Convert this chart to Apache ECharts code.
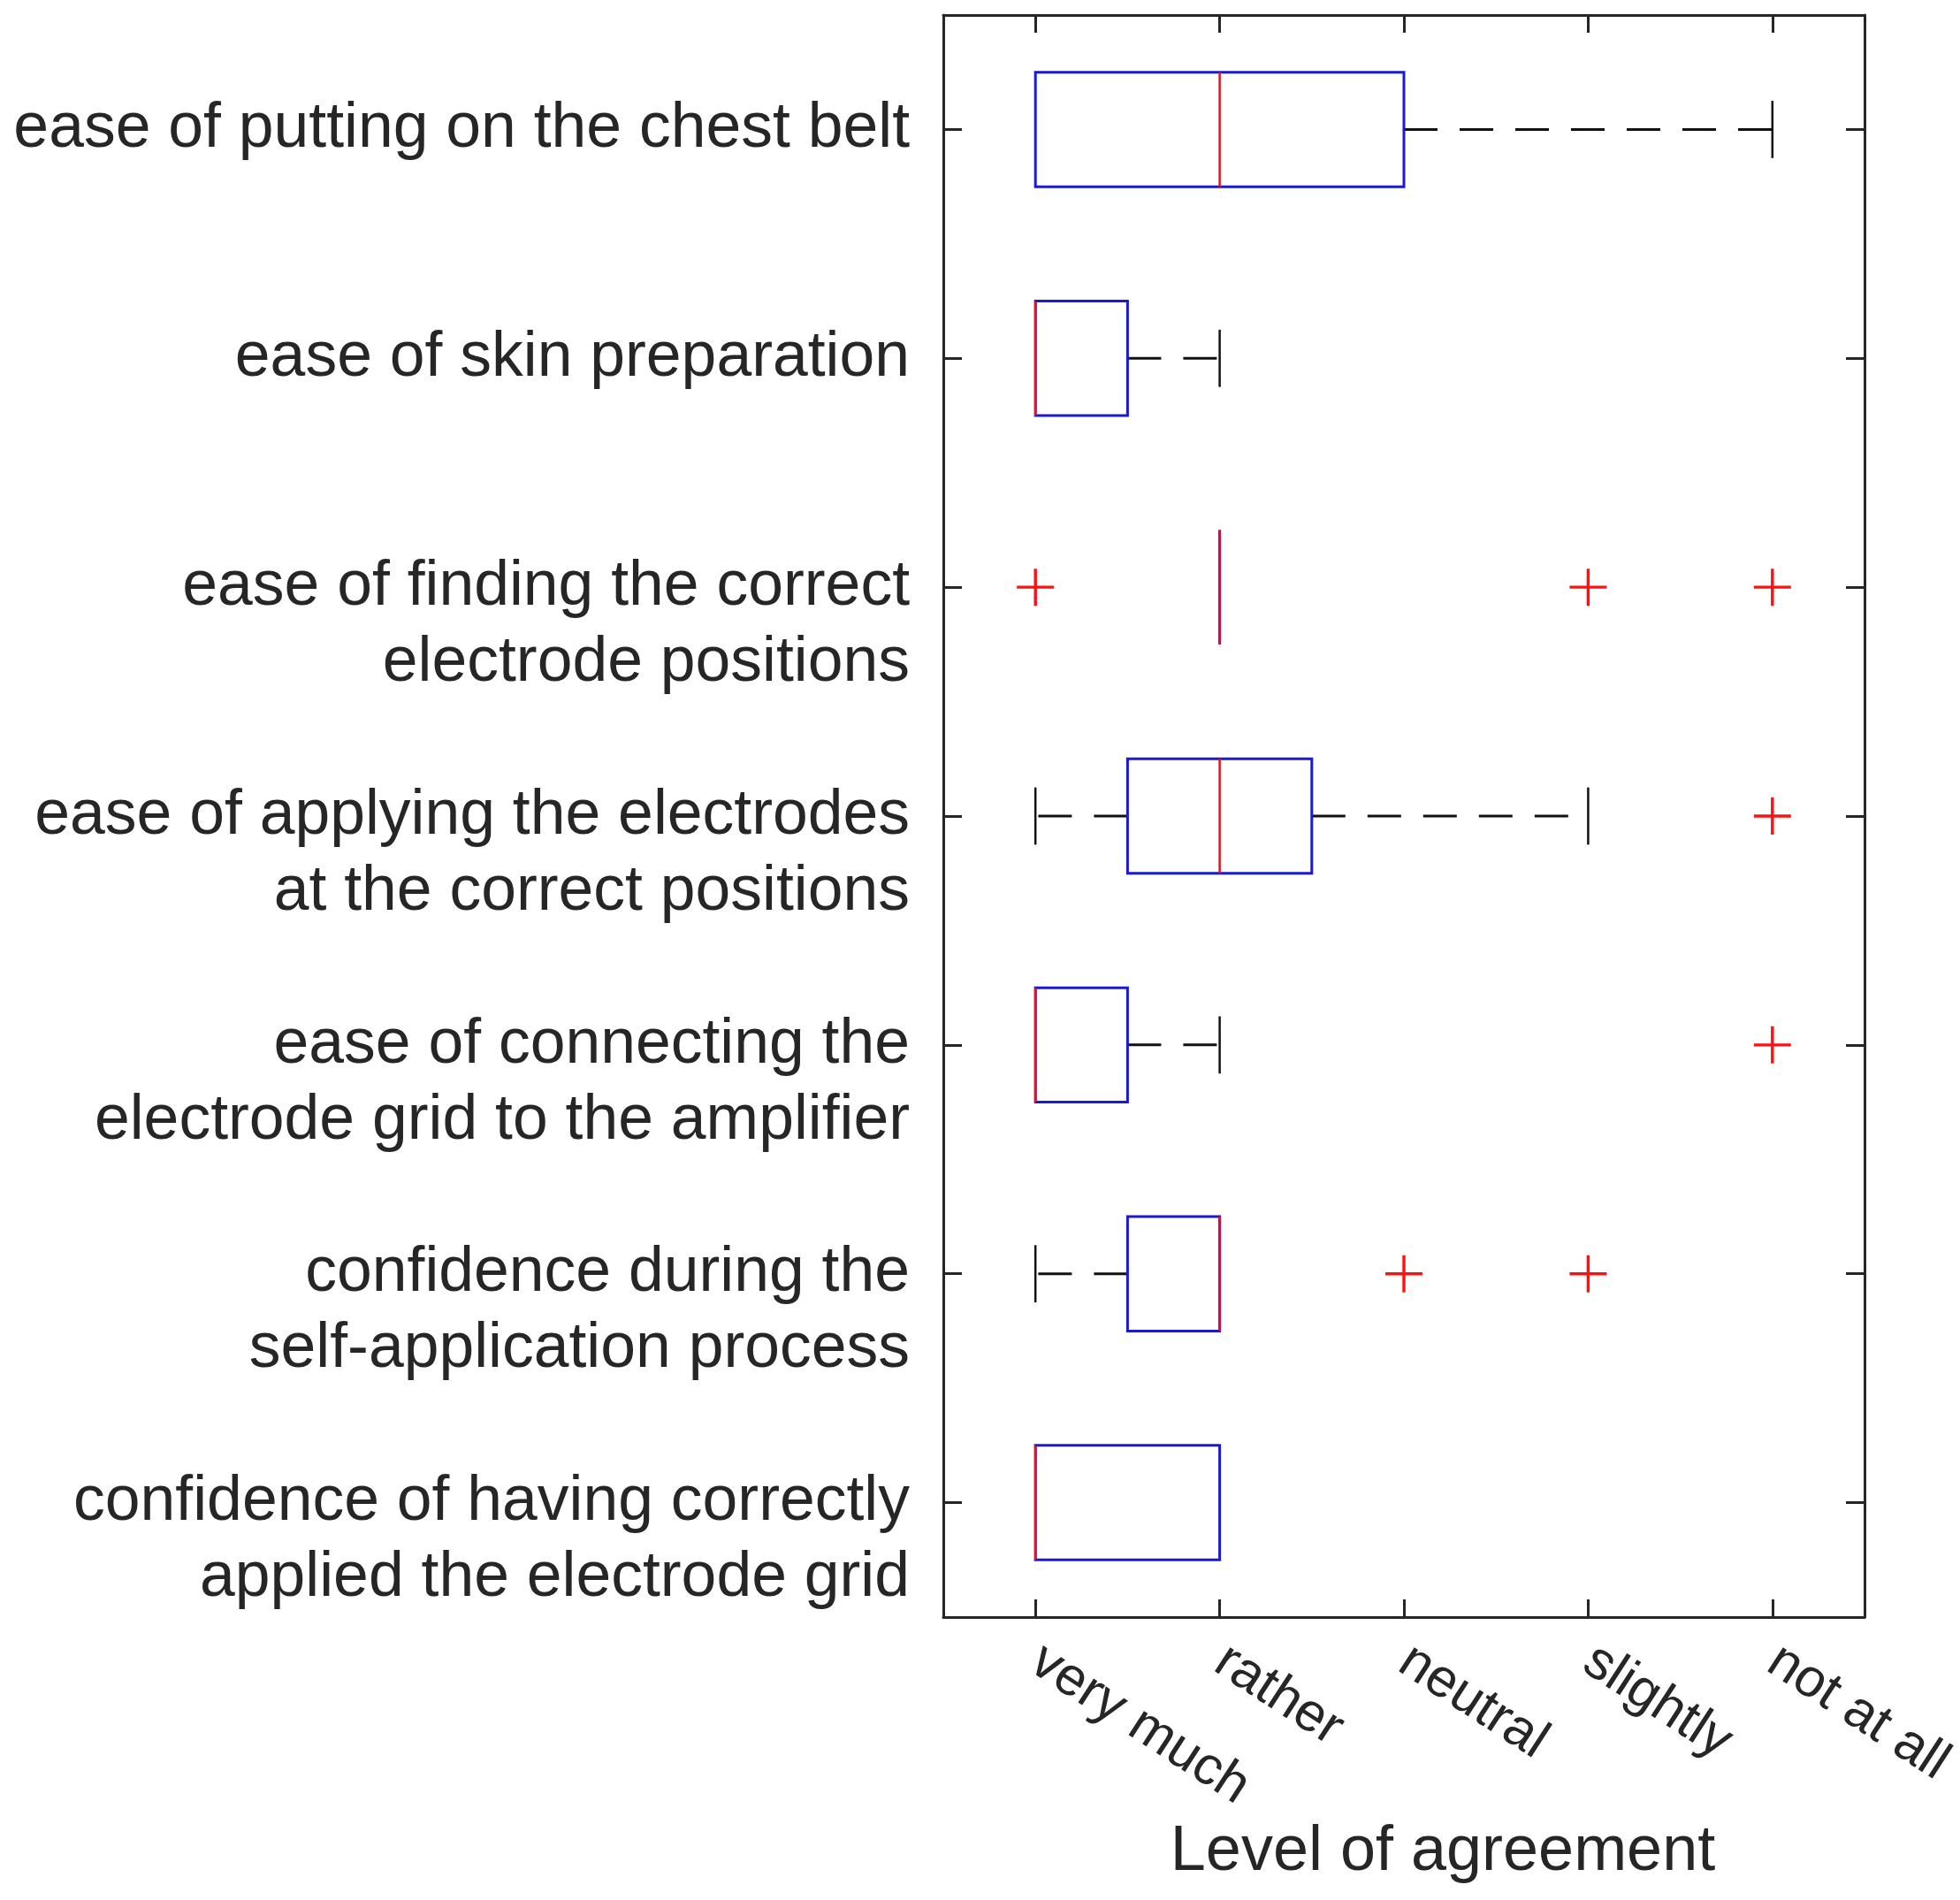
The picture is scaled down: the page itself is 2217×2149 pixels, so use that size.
<!DOCTYPE html>
<html>
<head>
<meta charset="utf-8">
<script src="https://cdn.jsdelivr.net/npm/echarts@6/dist/echarts.min.js"></script>
<style>
html, body { margin: 0; padding: 0; background: #fff; }
#chart { width: 2217px; height: 2149px; }
</style>
</head>
<body>
<div id="chart"></div>
<script>
// questionnaire items, top to bottom
var questions = [
	'ease of putting on the chest belt',
	'ease of skin preparation',
	'ease of finding the correct\nelectrode positions',
	'ease of applying the electrodes\nat the correct positions',
	'ease of connecting the\nelectrode grid to the amplifier',
	'confidence during the\nself-application process',
	'confidence of having correctly\napplied the electrode grid'
];
// answer scale, 1 .. 5
var levels = ['very much', 'rather', 'neutral', 'slightly', 'not at all'];

// box statistics per item
var whiskerLow  = [1, 1,   2, 1,   1,   1,   1];
var q1          = [1, 1,   2, 1.5, 1,   1.5, 1];
var median      = [2, 1,   2, 2,   1,   2,   1];
var q3          = [3, 1.5, 2, 2.5, 1.5, 2,   2];
var whiskerHigh = [5, 2,   2, 4,   2,   2,   2];

// outliers: item index and answer value
var outlierRow   = [2, 2, 2, 3, 4, 5, 5];
var outlierValue = [1, 4, 5, 5, 5, 3, 4];

var axisColor = '#262626';
var font = "'Liberation Sans', Arial, sans-serif";

var boxData = questions.map(function (q, i) {
	return [i, whiskerLow[i], q1[i], median[i], q3[i], whiskerHigh[i]];
});
var outlierData = outlierRow.map(function (r, i) {
	return [outlierValue[i], r];
});

function renderBox(params, api) {
	var row = api.value(0);
	var band = api.size([0, 1])[1];
	var half = band * 0.25;
	var cap = band * 0.125;
	var lo = api.coord([api.value(1), row]);
	var a = api.coord([api.value(2), row]);
	var m = api.coord([api.value(3), row]);
	var b = api.coord([api.value(4), row]);
	var hi = api.coord([api.value(5), row]);
	var y = a[1];
	var dash = { stroke: '#111', lineWidth: 3, lineDash: [38, 25] };
	var solid = { stroke: '#111', lineWidth: 2.5 };
	var kids = [];
	if (lo[0] < a[0]) {
		kids.push({ type: 'line', shape: { x1: a[0], y1: y, x2: lo[0], y2: y }, style: dash });
		kids.push({ type: 'line', shape: { x1: lo[0], y1: y - cap, x2: lo[0], y2: y + cap }, style: solid });
	}
	if (hi[0] > b[0]) {
		kids.push({ type: 'line', shape: { x1: b[0], y1: y, x2: hi[0], y2: y }, style: dash });
		kids.push({ type: 'line', shape: { x1: hi[0], y1: y - cap, x2: hi[0], y2: y + cap }, style: solid });
	}
	kids.push({
		type: 'rect',
		shape: { x: a[0], y: y - half, width: b[0] - a[0], height: half * 2 },
		style: { fill: 'none', stroke: '#1a1ad2', lineWidth: 3 }
	});
	kids.push({
		type: 'line',
		shape: { x1: m[0], y1: y - half, x2: m[0], y2: y + half },
		style: { stroke: '#e0141e', lineWidth: 2.5 }
	});
	return { type: 'group', children: kids };
}

var myChart = echarts.init(document.getElementById('chart'));

var frameLine = { show: true, lineStyle: { color: axisColor, width: 3 } };
var xTick = { show: true, inside: true, length: 20, lineStyle: { color: axisColor, width: 3 } };
var yTick = { show: true, inside: true, length: 21, alignWithLabel: true, lineStyle: { color: axisColor, width: 3 } };

var option = {
	backgroundColor: '#fff',
	animation: false,
	textStyle: { fontFamily: font },
	grid: { left: 1067, right: 108, top: 17, bottom: 320, outerBoundsMode: 'none', containLabel: false },
	xAxis: [{
		type: 'value',
		position: 'bottom',
		min: 0.5,
		max: 5.5,
		splitNumber: 5,
		axisLine: frameLine,
		axisTick: xTick,
		splitLine: { show: false },
		axisLabel: {
			rotate: -33,
			margin: 45,
			fontSize: 61,
			color: axisColor,
			fontFamily: font,
			hideOverlap: false,
			formatter: function (v) {
				return Number.isInteger(v) ? levels[v - 1] : '';
			}
		},
		name: 'Level of agreement',
		nameLocation: 'middle',
		nameGap: 226,
		nameTextStyle: { fontSize: 72, color: axisColor, fontFamily: font, padding: [0, 0, 0, 88] }
	}, {
		type: 'value',
		position: 'top',
		min: 0.5,
		max: 5.5,
		splitNumber: 5,
		axisLine: frameLine,
		axisTick: xTick,
		splitLine: { show: false },
		axisLabel: { show: false }
	}],
	yAxis: [{
		type: 'category',
		position: 'left',
		inverse: true,
		data: questions,
		axisLine: frameLine,
		axisTick: yTick,
		axisLabel: {
			interval: 0,
			hideOverlap: false,
			showMinLabel: true,
			showMaxLabel: true,
			margin: 38,
			fontSize: 71.5,
			lineHeight: 86,
			align: 'right',
			color: axisColor,
			fontFamily: font,
			// first line sits on the tick
			formatter: function (v) {
				return v.indexOf('\n') >= 0 ? '\n' + v : v;
			}
		}
	}, {
		type: 'category',
		position: 'right',
		inverse: true,
		data: questions,
		axisLine: frameLine,
		axisTick: yTick,
		axisLabel: { show: false }
	}],
	series: [{
		type: 'custom',
		xAxisIndex: 0,
		yAxisIndex: 0,
		renderItem: renderBox,
		encode: { x: [1, 2, 3, 4, 5], y: 0 },
		clip: false,
		data: boxData
	}, {
		type: 'scatter',
		xAxisIndex: 0,
		yAxisIndex: 0,
		symbol: 'path://M-1.7,-21H1.7V-1.7H21V1.7H1.7V21H-1.7V1.7H-21V-1.7H-1.7Z',
		symbolSize: 42,
		itemStyle: { color: '#ff1010', opacity: 1 },
		data: outlierData
	}]
};

myChart.setOption(option);
</script>
</body>
</html>
